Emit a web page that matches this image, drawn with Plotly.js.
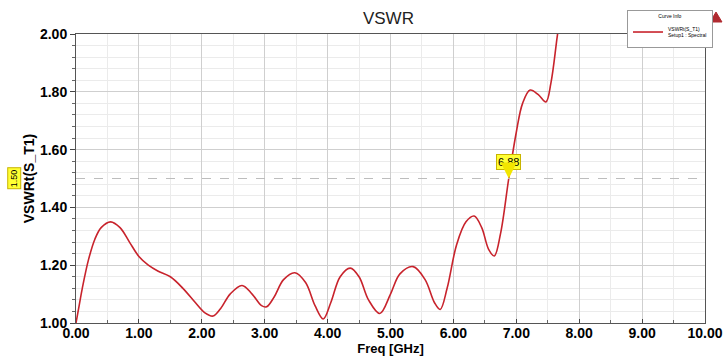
<!DOCTYPE html>
<html>
<head>
<meta charset="utf-8">
<script src="https://cdn.plot.ly/plotly-3.0.1.min.js"></script>
<style>html,body{margin:0;padding:0;background:#fff;}#chart{width:726px;height:356px;}</style>
</head>
<body>
<div id="chart"></div>
<script>
const freq = [0.00,0.05,0.10,0.20,0.30,0.40,0.55,0.70,0.85,1.00,1.15,1.30,1.50,1.70,1.90,2.05,2.18,2.30,2.45,2.64,2.80,2.95,3.03,3.15,3.30,3.48,3.65,3.80,3.93,4.05,4.20,4.36,4.50,4.65,4.83,5.00,5.15,5.36,5.55,5.70,5.79,5.90,6.05,6.20,6.33,6.45,6.56,6.65,6.75,6.88,7.00,7.10,7.22,7.35,7.47,7.55,7.65,7.75];
const vswr = [1.00,1.06,1.12,1.22,1.29,1.33,1.35,1.33,1.28,1.23,1.20,1.18,1.16,1.12,1.07,1.035,1.024,1.05,1.10,1.13,1.10,1.06,1.056,1.09,1.15,1.174,1.14,1.06,1.014,1.07,1.16,1.19,1.16,1.08,1.033,1.10,1.17,1.195,1.15,1.07,1.047,1.12,1.27,1.35,1.37,1.33,1.255,1.232,1.31,1.50,1.66,1.76,1.806,1.79,1.765,1.83,1.99,2.15];
const markerX = [6.88];
const markerY = [1.50];
const markerLabel = ['6.88'];
const yMarkerLabel = '1.50';
const xTicks = [0,1,2,3,4,5,6,7,8,9,10];
const xTickText = ['0.00','1.00','2.00','3.00','4.00','5.00','6.00','7.00','8.00','9.00','10.00'];
const yTicks = [1.0,1.2,1.4,1.6,1.8,2.0];
const yTickText = ['1.00','1.20','1.40','1.60','1.80','2.00'];
const seriesName = 'VSWRt(S_T1)<br>Setup1 : Spectral';

const data = [
  {x: freq, y: vswr, type: 'scatter', mode: 'lines', name: seriesName,
   line: {color: '#c8232c', width: 1.6, shape: 'spline', smoothing: 1}, cliponaxis: true},
  {x: [0, 10], y: [markerY[0], markerY[0]], type: 'scatter', mode: 'lines', showlegend: false,
   line: {color: '#bdbdbd', width: 1, dash: 'dash'}, hoverinfo: 'skip'}
];

const layout = {
  width: 726, height: 356,
  margin: {l: 76, r: 21, t: 34, b: 33, autoexpand: false},
  paper_bgcolor: '#fff', plot_bgcolor: '#fff',
  font: {family: 'Liberation Sans, Arial, sans-serif', color: '#000'},
  title: {text: 'VSWR', x: 0.535, xanchor: 'center', y: 0.95, yanchor: 'middle', font: {size: 17, color: '#222'}},
  showlegend: true,
  legend: {x: 1.0127, y: 1.083, xanchor: 'right', yanchor: 'top', bgcolor: '#fff', bordercolor: '#999', borderwidth: 1,
    font: {size: 5, color: '#000'}, title: {text: 'Curve Info', side: 'top center', font: {size: 5}},
    itemwidth: 30, tracegroupgap: 0},
  xaxis: {range: [0, 10], tickvals: xTicks, ticktext: xTickText, ticks: 'inside', ticklen: 4, tickcolor: '#444',
    tickfont: {size: 14, family: 'Liberation Sans, Arial, sans-serif', weight: 'bold'}, ticklabelstandoff: -3,
    showgrid: true, gridcolor: '#cfcfcf', gridwidth: 1,
    minor: {dtick: 0.5, showgrid: true, gridcolor: '#ebebeb', ticks: 'inside', ticklen: 3, tickcolor: '#666'},
    showline: true, linecolor: '#555', linewidth: 1, mirror: true, zeroline: false,
    title: {text: 'Freq [GHz]', font: {size: 13, weight: 'bold'}, standoff: 0}, automargin: false},
  yaxis: {range: [1.0, 2.0], tickvals: yTicks, ticktext: yTickText, ticks: 'outside', ticklen: 5, tickcolor: '#444',
    tickfont: {size: 14, family: 'Liberation Sans, Arial, sans-serif', weight: 'bold'}, ticklabelstandoff: 0,
    showgrid: true, gridcolor: '#cfcfcf', gridwidth: 1,
    minor: {dtick: 0.04, showgrid: true, gridcolor: '#ebebeb', ticks: 'outside', ticklen: 3, tickcolor: '#666'},
    showline: true, linecolor: '#555', linewidth: 1, mirror: true, zeroline: false,
    title: {text: 'VSWRt(S_T1)', font: {size: 14, weight: 'bold'}, standoff: 2}, automargin: false},
  annotations: [
    {x: markerX[0], y: markerY[0], xref: 'x', yref: 'y', text: markerLabel[0], showarrow: true,
     ax: 0, ay: -17, arrowhead: 2, arrowsize: 1.6, arrowwidth: 2, arrowcolor: '#f2e600', standoff: 0,
     bgcolor: '#ffff33', bordercolor: '#c8b400', borderwidth: 1, borderpad: 1, font: {size: 11, color: '#000'}},
    {x: -0.099, y: markerY[0], xref: 'paper', yref: 'y', text: yMarkerLabel, showarrow: false, textangle: -90,
     bgcolor: '#ffff33', bordercolor: '#c8b400', borderwidth: 1, borderpad: 1, font: {size: 9, color: '#000'},
     xanchor: 'center', yanchor: 'middle'}
  ],
  shapes: [
    {type: 'path', xref: 'paper', yref: 'paper', path: 'M 1.0175 1.076 L 1.027 1.0415 L 1.008 1.0415 Z',
     fillcolor: '#b02a30', line: {color: '#b02a30', width: 1}}
  ]
};

Plotly.newPlot('chart', data, layout, {staticPlot: true, displayModeBar: false});
</script>
</body>
</html>
